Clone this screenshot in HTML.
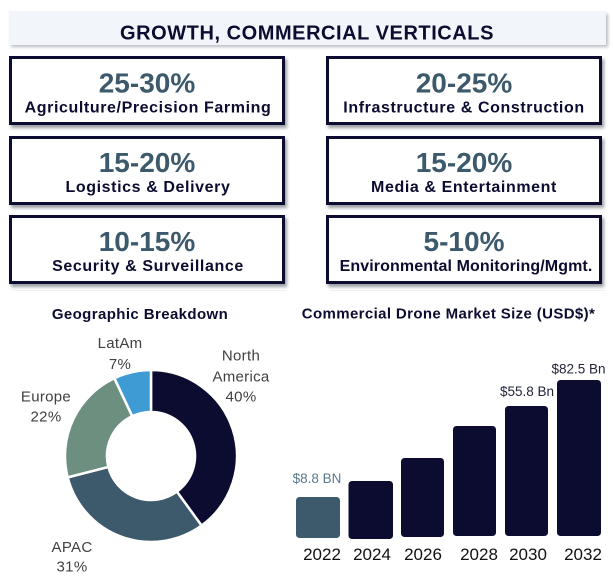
<!DOCTYPE html>
<html>
<head>
<meta charset="utf-8">
<style>
  html,body{margin:0;padding:0;background:#fff;}
  svg{display:block;}
  text{font-family:"Liberation Sans", Arial, sans-serif;}
</style>
</head>
<body>
<svg width="613" height="582" viewBox="0 0 613 582" xmlns="http://www.w3.org/2000/svg">
  <defs>
    <filter id="sh" x="-10%" y="-10%" width="120%" height="130%">
      <feGaussianBlur stdDeviation="1.5"/>
    </filter>
  </defs>
  <rect width="613" height="582" fill="#ffffff"/>

  <!-- Title banner -->
  <rect x="11" y="14" width="597" height="33" fill="#b9bcc2" filter="url(#sh)"/>
  <rect x="9" y="11" width="597" height="34" fill="#f2f5f9"/>
  <text x="307" y="39.5" text-anchor="middle" font-size="20" font-weight="bold" fill="#0b0c30" letter-spacing="0.55">GROWTH, COMMERCIAL VERTICALS</text>

  <!-- Boxes: shadows -->
  <g fill="#9a9da3" filter="url(#sh)">
    <rect x="11" y="59" width="276" height="69"/>
    <rect x="328" y="59" width="276" height="69"/>
    <rect x="11" y="139" width="276" height="69"/>
    <rect x="328" y="139" width="276" height="69"/>
    <rect x="11" y="218" width="276" height="69"/>
    <rect x="328" y="218" width="276" height="69"/>
  </g>
  <g fill="#ffffff" stroke="#0b0c30" stroke-width="3">
    <rect x="10.5" y="57.5" width="273" height="66"/>
    <rect x="327.5" y="57.5" width="273" height="66"/>
    <rect x="10.5" y="137.5" width="273" height="66"/>
    <rect x="327.5" y="137.5" width="273" height="66"/>
    <rect x="10.5" y="216.5" width="273" height="66"/>
    <rect x="327.5" y="216.5" width="273" height="66"/>
  </g>

  <g text-anchor="middle" font-weight="bold">
    <g font-size="28" fill="#3c5a6c">
      <text x="147" y="92.5">25-30%</text>
      <text x="464" y="92.5">20-25%</text>
      <text x="147" y="172">15-20%</text>
      <text x="464" y="172">15-20%</text>
      <text x="147" y="251">10-15%</text>
      <text x="464" y="251">5-10%</text>
    </g>
    <g font-size="16" fill="#0b0c30" letter-spacing="0.6">
      <text x="148" y="112.5">Agriculture/Precision Farming</text>
      <text x="464" y="112.5">Infrastructure &amp; Construction</text>
      <text x="148" y="192">Logistics &amp; Delivery</text>
      <text x="464" y="192">Media &amp; Entertainment</text>
      <text x="148" y="271">Security &amp; Surveillance</text>
      <text x="466" y="271" letter-spacing="0.1">Environmental Monitoring/Mgmt.</text>
    </g>
  </g>

  <!-- faint separators -->
  <line x1="13" y1="290.5" x2="287" y2="290.5" stroke="#f0f0f0" stroke-width="1"/>
  <line x1="330" y1="290.5" x2="605" y2="290.5" stroke="#f0f0f0" stroke-width="1"/>

  <!-- Section titles -->
  <text x="140" y="319" text-anchor="middle" font-size="15" font-weight="bold" fill="#0b0c30" letter-spacing="0.4">Geographic Breakdown</text>
  <text x="448.5" y="318.5" text-anchor="middle" font-size="15" font-weight="bold" fill="#0b0c30" letter-spacing="0.37">Commercial Drone Market Size (USD$)*</text>

  <!-- Donut -->
  <g stroke="#ffffff" stroke-width="2.5" stroke-linejoin="miter">
    <path d="M151,370 A86,86 0 0 1 201.55,525.57 L176.86,491.6 A44,44 0 0 0 151,412 Z" fill="#0b0c30"/>
    <path d="M201.55,525.57 A86,86 0 0 1 67.7,477.39 L108.38,466.94 A44,44 0 0 0 176.86,491.6 Z" fill="#3c5a6c"/>
    <path d="M67.7,477.39 A86,86 0 0 1 114.38,378.19 L132.26,416.19 A44,44 0 0 0 108.38,466.94 Z" fill="#6c8f80"/>
    <path d="M114.38,378.19 A86,86 0 0 1 151,370 L151,412 A44,44 0 0 0 132.26,416.19 Z" fill="#3f9bd4"/>
  </g>

  <!-- Donut labels -->
  <g font-size="15" fill="#404040" text-anchor="middle" letter-spacing="0.3">
    <text x="241" y="360.5">North</text>
    <text x="241" y="381.5">America</text>
    <text x="241" y="401.5">40%</text>
    <text x="120" y="348">LatAm</text>
    <text x="120" y="369">7%</text>
    <text x="46" y="401.5">Europe</text>
    <text x="46" y="421.5">22%</text>
    <text x="72" y="552">APAC</text>
    <text x="72" y="571.5">31%</text>
  </g>

  <!-- Bars -->
  <rect x="296" y="497" width="44" height="41" rx="3.5" fill="#3c5a6c"/>
  <g fill="#0b0c30">
    <rect x="348.5" y="481" width="44.5" height="58" rx="3.5"/>
    <rect x="401" y="458" width="43" height="79" rx="3.5"/>
    <rect x="453" y="426" width="43" height="110" rx="3.5"/>
    <rect x="505" y="406" width="43" height="130" rx="3.5"/>
    <rect x="557" y="380" width="44" height="156" rx="3.5"/>
  </g>

  <!-- Bar value labels -->
  <g font-size="13.5" text-anchor="middle">
    <text x="317" y="483" fill="#5a7a8c">$8.8 BN</text>
    <text x="527" y="396" fill="#22243a">$55.8 Bn</text>
    <text x="578.5" y="373.5" fill="#22243a">$82.5 Bn</text>
  </g>

  <!-- Year labels -->
  <g font-size="17" fill="#111111" text-anchor="middle">
    <text x="322" y="560">2022</text>
    <text x="372" y="560">2024</text>
    <text x="423" y="560">2026</text>
    <text x="479" y="560">2028</text>
    <text x="528" y="560">2030</text>
    <text x="583" y="560">2032</text>
  </g>
</svg>
</body>
</html>
